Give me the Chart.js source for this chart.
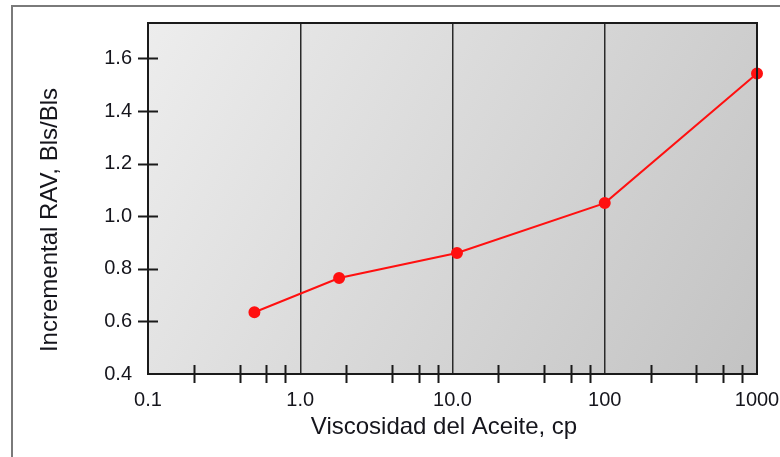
<!DOCTYPE html>
<html>
<head>
<meta charset="utf-8">
<script src="https://cdn.jsdelivr.net/npm/chart.js@4/dist/chart.umd.min.js"></script>
<style>
  html, body { margin: 0; padding: 0; background: #fff; }
  #wrap { width: 780px; height: 457px; }
</style>
</head>
<body>
<div id="wrap"><canvas id="viscChart" width="780" height="457"></canvas></div>
<script>
// datos
const viscosidad = [0.5, 1.8, 10.7, 100, 1000];
const ravIncremental = [0.635, 0.765, 0.86, 1.05, 1.543];
const xTicks = [0.1, 1, 10, 100, 1000];
const xTickLabels = ['0.1', '1.0', '10.0', '100', '1000'];
const xMinorTicks = [0.2, 0.4, 0.6, 0.8, 2, 4, 6, 8, 20, 40, 60, 80, 200, 400, 600, 800];
const yTicks = [0.4, 0.6, 0.8, 1.0, 1.2, 1.4, 1.6];
const xTitle = 'Viscosidad del Aceite, cp';
const yTitle = 'Incremental RAV, Bls/Bls';

const fontFam = '"Liberation Sans", Arial, sans-serif';
const textColor = '#15151c';

// fondo degradado + marco exterior
const fondo = {
  id: 'fondo',
  beforeDraw(chart) {
    const ctx = chart.ctx;
    const a = chart.chartArea;
    ctx.save();
    ctx.fillStyle = '#fff';
    ctx.fillRect(0, 0, chart.width, chart.height);
    ctx.strokeStyle = '#7a7a7a';
    ctx.lineWidth = 2;
    ctx.beginPath();
    ctx.moveTo(12, chart.height);
    ctx.lineTo(12, 6);
    ctx.lineTo(chart.width, 6);
    ctx.stroke();
    const g = ctx.createLinearGradient(a.left, a.top, a.right, a.bottom);
    g.addColorStop(0, '#ededed');
    g.addColorStop(1, '#c3c3c3');
    ctx.fillStyle = g;
    ctx.fillRect(a.left, a.top, a.right - a.left, a.bottom - a.top);
    ctx.restore();
  }
};

// marcas que cruzan los ejes, borde del area y titulos
const marcas = {
  id: 'marcas',
  afterDatasetsDraw(chart) {
    const ctx = chart.ctx;
    const a = chart.chartArea;
    const xs = chart.scales.x, ys = chart.scales.y;
    ctx.save();
    ctx.strokeStyle = '#1a1a1a';
    ctx.lineWidth = 2;
    ctx.strokeRect(a.left, a.top, a.right - a.left, a.bottom - a.top);
    ctx.beginPath();
    xMinorTicks.forEach(v => {
      const px = Math.round(xs.getPixelForValue(v)) + 0.5;
      ctx.moveTo(px, a.bottom - 9);
      ctx.lineTo(px, a.bottom + 9);
    });
    yTicks.forEach(v => {
      if (v === yTicks[0]) return;
      const py = Math.round(ys.getPixelForValue(v)) + 0.5;
      ctx.moveTo(a.left - 10, py);
      ctx.lineTo(a.left + 10, py);
    });
    ctx.stroke();

    ctx.fillStyle = textColor;
    ctx.font = '24px ' + fontFam;
    ctx.textAlign = 'center';
    ctx.textBaseline = 'middle';
    ctx.fillText(xTitle, a.left + 296, a.bottom + 53);
    ctx.translate(a.left - 98, a.top + 197);
    ctx.rotate(-Math.PI / 2);
    ctx.fillText(yTitle, 0, 0);
    ctx.restore();
  }
};

new Chart(document.getElementById('viscChart'), {
  type: 'line',
  data: {
    datasets: [{
      data: viscosidad.map((v, i) => ({ x: v, y: ravIncremental[i] })),
      borderColor: '#ff1010',
      backgroundColor: '#ff1010',
      borderWidth: 2,
      pointRadius: 5,
      pointHoverRadius: 5,
      tension: 0,
      clip: false
    }]
  },
  options: {
    responsive: false,
    animation: false,
    layout: { padding: { top: 23, right: 23, left: 0, bottom: 0 } },
    plugins: {
      legend: { display: false },
      tooltip: { enabled: false }
    },
    scales: {
      x: {
        type: 'logarithmic',
        min: 0.1,
        max: 1000,
        afterBuildTicks(scale) { scale.ticks = xTicks.map(v => ({ value: v })); },
        afterFit(scale) {
          scale.height = 83;
          scale.paddingLeft = 0;
          scale.paddingRight = 0;
        },
        ticks: {
          autoSkip: false,
          maxRotation: 0,
          padding: 14,
          color: textColor,
          font: { family: fontFam, size: 20 },
          callback: (v) => xTickLabels[xTicks.indexOf(v)]
        },
        grid: {
          drawTicks: false,
          lineWidth: 1.5,
          color: (c) => (c.tick && (c.tick.value === 0.1 || c.tick.value === 1000)) ? 'rgba(0,0,0,0)' : '#2a2a2a'
        },
        border: { display: false }
      },
      y: {
        type: 'linear',
        min: 0.4,
        max: 1.735,
        afterBuildTicks(scale) { scale.ticks = yTicks.map(v => ({ value: v })); },
        afterFit(scale) {
          scale.width = 148;
          scale.paddingTop = 0;
          scale.paddingBottom = 0;
        },
        ticks: {
          padding: 16,
          color: textColor,
          font: { family: fontFam, size: 20 },
          callback: (v) => Number(v).toFixed(1)
        },
        grid: { display: false, drawTicks: false },
        border: { display: false }
      }
    }
  },
  plugins: [fondo, marcas]
});
</script>
</body>
</html>
